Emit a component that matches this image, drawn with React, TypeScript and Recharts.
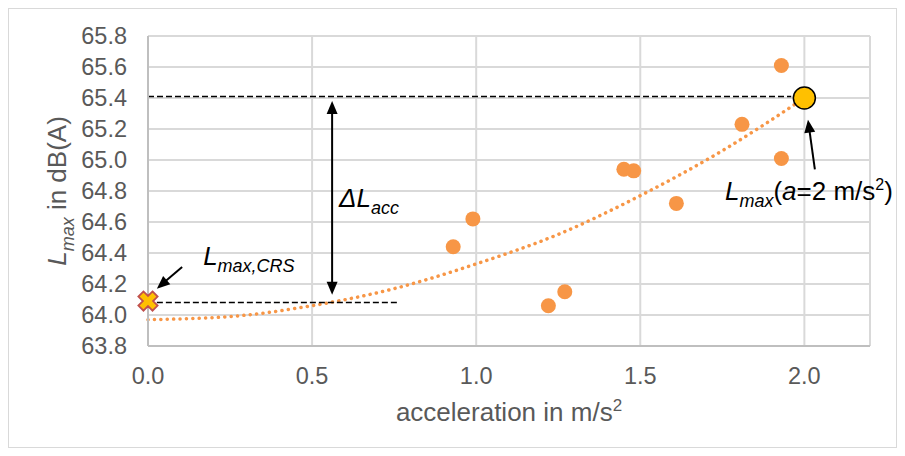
import {
  ComposedChart,
  Scatter,
  Line,
  XAxis,
  YAxis,
  CartesianGrid,
  ReferenceLine,
  ReferenceDot,
} from 'recharts'

// measured points
const accel = [0.93, 0.99, 1.22, 1.27, 1.45, 1.48, 1.61, 1.81, 1.93, 1.93]
const lmax = [64.44, 64.62, 64.06, 64.15, 64.94, 64.93, 64.72, 65.23, 65.61, 65.01]

// dotted trend curve
const trendX = [0, 0.25, 0.5, 0.75, 1, 1.25, 1.5, 1.75, 2]
const trendY = [63.97, 63.99, 64.06, 64.17, 64.33, 64.52, 64.77, 65.06, 65.4]

const xTicks = [0, 0.5, 1, 1.5, 2]
const yTicks = [63.8, 64, 64.2, 64.4, 64.6, 64.8, 65, 65.2, 65.4, 65.6, 65.8]

// annotation anchors (data coords)
const crsPoint = { x: 0, y: 64.09 }
const a2Point = { x: 2, y: 65.4 }
const topDash = { x1: 0, x2: 1.96, y: 65.41 }
const lowDash = { x1: 0.027, x2: 0.762, y: 64.08 }
const deltaArrow = { x: 0.561, y1: 64.13, y2: 65.38 }
const crsArrow = { x1: 0.104, y1: 64.31, x2: 0.027, y2: 64.17 }
const a2Arrow = { x1: 2.032, y1: 64.94, x2: 2.011, y2: 65.26 }
const crsLabel = { x: 0.168, y: 64.32 }
const deltaLabel = { x: 0.582, y: 64.7 }
const a2Label = { x: 1.758, y: 64.74 }

const points = accel.map((x, i) => ({ x, y: lmax[i] }))
const trend = trendX.map((x, i) => ({ x, y: trendY[i] }))

const ORANGE = '#F79646'
const GRID = '#D9D9D9'
const TICK = '#595959'
const TITLE_SIZE = 26
const SUB_SIZE = 18

function head(x: number, y: number, ang: number) {
  const len = 13
  const w = 5.5
  const bx = x - len * Math.cos(ang)
  const by = y - len * Math.sin(ang)
  const px = -Math.sin(ang) * w
  const py = Math.cos(ang) * w
  return `${x},${y} ${bx + px},${by + py} ${bx - px},${by - py}`
}

function arrow(both: boolean) {
  return (p: any) => {
    const { x1, y1, x2, y2 } = p
    const ang = Math.atan2(y2 - y1, x2 - x1)
    const len = 12
    const sx = both ? x1 + len * Math.cos(ang) : x1
    const sy = both ? y1 + len * Math.sin(ang) : y1
    const ex = x2 - len * Math.cos(ang)
    const ey = y2 - len * Math.sin(ang)
    return (
      <g>
        <line x1={sx} y1={sy} x2={ex} y2={ey} stroke="#000" strokeWidth={2} />
        <polygon points={head(x2, y2, ang)} fill="#000" />
        {both && <polygon points={head(x1, y1, ang + Math.PI)} fill="#000" />}
      </g>
    )
  }
}

function cross(p: any) {
  const L = 10
  const w = 3.6
  const pts = [
    [-w, -L], [w, -L], [w, -w], [L, -w], [L, w], [w, w],
    [w, L], [-w, L], [-w, w], [-L, w], [-L, -w], [-w, -w],
  ]
    .map(([a, b]) => `${a},${b}`)
    .join(' ')
  return (
    <polygon
      points={pts}
      transform={`translate(${p.cx},${p.cy}) rotate(45)`}
      fill="#FFC000"
      stroke="#C0504D"
      strokeWidth={1.8}
      strokeLinejoin="miter"
    />
  )
}

const dashed = { stroke: '#000', strokeWidth: 1.5, strokeDasharray: '6 3' }

export default function App() {
  return (
    <div
      style={{
        width: 889,
        height: 440,
        boxSizing: 'border-box',
        border: '1px solid #D9D9D9',
        fontFamily: '"Liberation Sans", Arial, sans-serif',
        background: '#fff',
      }}
    >
      <ComposedChart width={887} height={438} margin={{ top: 27, right: 26, left: 0, bottom: 20 }}>
        <CartesianGrid stroke={GRID} strokeWidth={2} />
        <XAxis
          type="number"
          dataKey="x"
          domain={[0, 2.2]}
          ticks={xTicks}
          interval={0}
          tickFormatter={(v: number) => v.toFixed(1)}
          tick={{ fill: TICK, fontSize: 23.5 }}
          tickSize={0}
          tickMargin={21}
          axisLine={{ stroke: '#BFBFBF', strokeWidth: 2 }}
          height={81}
          label={(props: any) => {
            const vb = props.viewBox
            return (
              <text
                x={vb.x + vb.width / 2}
                y={vb.y + 75}
                textAnchor="middle"
                fill={TICK}
                fontSize={TITLE_SIZE}
              >
                acceleration in m/s
                <tspan fontSize={17} dy={-10}>2</tspan>
              </text>
            )
          }}
        />
        <YAxis
          type="number"
          domain={[63.8, 65.8]}
          ticks={yTicks}
          interval={0}
          tickFormatter={(v: number) => v.toFixed(1)}
          tick={{ fill: TICK, fontSize: 23.5 }}
          tickSize={0}
          tickMargin={21}
          axisLine={{ stroke: '#BFBFBF', strokeWidth: 2 }}
          width={139}
          label={(props: any) => {
            const vb = props.viewBox
            const cx = 57
            const cy = vb.y + vb.height / 2
            return (
              <text
                x={cx}
                y={cy}
                textAnchor="middle"
                fill={TICK}
                fontSize={TITLE_SIZE}
                transform={`rotate(-90, ${cx}, ${cy})`}
              >
                <tspan fontStyle="italic">L</tspan>
                <tspan fontStyle="italic" fontSize={SUB_SIZE} dy={8}>max</tspan>
                <tspan dy={-8}> in dB(A)</tspan>
              </text>
            )
          }}
        />
        <Line
          data={trend}
          dataKey="y"
          type="monotone"
          stroke={ORANGE}
          strokeWidth={3.5}
          strokeDasharray="0.1 6.3"
          strokeLinecap="round"
          dot={false}
          activeDot={false}
          isAnimationActive={false}
        />
        <ReferenceLine
          segment={[{ x: topDash.x1, y: topDash.y }, { x: topDash.x2, y: topDash.y }]}
          {...dashed}
        />
        <ReferenceLine
          segment={[{ x: lowDash.x1, y: lowDash.y }, { x: lowDash.x2, y: lowDash.y }]}
          {...dashed}
        />
        <ReferenceLine
          segment={[{ x: deltaArrow.x, y: deltaArrow.y1 }, { x: deltaArrow.x, y: deltaArrow.y2 }]}
          shape={arrow(true)}
        />
        <ReferenceLine
          segment={[{ x: crsArrow.x1, y: crsArrow.y1 }, { x: crsArrow.x2, y: crsArrow.y2 }]}
          shape={arrow(false)}
          ifOverflow="visible"
        />
        <ReferenceLine
          segment={[{ x: a2Arrow.x1, y: a2Arrow.y1 }, { x: a2Arrow.x2, y: a2Arrow.y2 }]}
          shape={arrow(false)}
          ifOverflow="visible"
        />
        <Scatter
          data={points}
          dataKey="y"
          isAnimationActive={false}
          shape={(p: any) => <circle cx={p.cx} cy={p.cy} r={7.5} fill={ORANGE} />}
        />
        <ReferenceDot
          x={a2Point.x}
          y={a2Point.y}
          r={11}
          fill="#FFC000"
          stroke="#000"
          strokeWidth={1.5}
          ifOverflow="visible"
        />
        <ReferenceDot x={crsPoint.x} y={crsPoint.y} shape={cross} ifOverflow="visible" />
        <ReferenceDot
          x={crsLabel.x}
          y={crsLabel.y}
          ifOverflow="visible"
          shape={(p: any) => (
            <text x={p.cx} y={p.cy} fill="#000" fontSize={TITLE_SIZE} fontStyle="italic">
              L<tspan fontSize={SUB_SIZE} dy={7}>max,CRS</tspan>
            </text>
          )}
        />
        <ReferenceDot
          x={deltaLabel.x}
          y={deltaLabel.y}
          ifOverflow="visible"
          shape={(p: any) => (
            <text x={p.cx} y={p.cy} fill="#000" fontSize={TITLE_SIZE} fontStyle="italic">
              ΔL<tspan fontSize={SUB_SIZE} dy={7}>acc</tspan>
            </text>
          )}
        />
        <ReferenceDot
          x={a2Label.x}
          y={a2Label.y}
          ifOverflow="visible"
          shape={(p: any) => (
            <text x={p.cx} y={p.cy} fill="#000" fontSize={TITLE_SIZE}>
              <tspan fontStyle="italic">L</tspan>
              <tspan fontStyle="italic" fontSize={SUB_SIZE} dy={7}>max</tspan>
              <tspan dy={-7}>(</tspan>
              <tspan fontStyle="italic">a</tspan>
              <tspan>=2 m/s</tspan>
              <tspan fontSize={16} dy={-10}>2</tspan>
              <tspan dy={10}>)</tspan>
            </text>
          )}
        />
      </ComposedChart>
    </div>
  )
}
